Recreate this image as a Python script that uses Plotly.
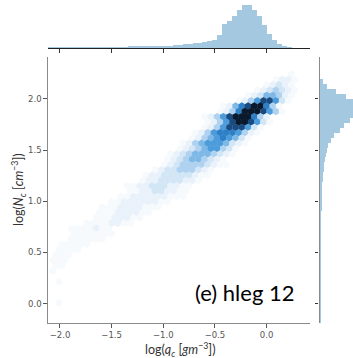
import plotly.graph_objects as go

# ---------------- data ----------------
QC_TICKS = [-2.0, -1.5, -1.0, -0.5, 0.0]
QC_TICK_TEXT = ["\u22122.0", "\u22121.5", "\u22121.0", "\u22120.5", "0.0"]
NC_TICKS = [0.0, 0.5, 1.0, 1.5, 2.0]
NC_TICK_TEXT = ["0.0", "0.5", "1.0", "1.5", "2.0"]

# top marginal histogram of log(q_c): 50 bins
QC_BIN_LO = -2.157
QC_BIN_W = 0.048
QC_COUNTS = [0.2, 0.3, 0.3, 0.4, 0.4, 0.5, 0.5, 0.5, 0.6, 0.6,
             0.6, 0.7, 0.7, 0.8, 0.9, 1.0, 1.0, 1.1, 1.2, 1.3,
             1.5, 1.6, 1.8, 2.0, 2.2, 2.5, 2.9, 3.3, 3.7, 4.2,
             4.8, 5.3, 6.0, 7.0, 8.3, 13.3, 23.7, 27.0, 31.7, 37.7,
             42.7, 42.7, 38.3, 31.7, 22.7, 14.3, 7.7, 3.7, 1.7, 0.5]

# right marginal histogram of log(N_c): 50 bins (bottom to top)
NC_BIN_LO = -0.204
NC_BIN_W = 0.048
NC_COUNTS = [0.1, 0.1, 0.1, 0.1, 0.2, 0.2, 0.2, 0.2, 0.2, 0.3,
             0.3, 0.3, 0.4, 0.4, 0.4, 0.5, 0.5, 0.6, 0.6, 0.7,
             0.8, 0.9, 1.0, 1.1, 1.3, 1.5, 1.8, 2.0, 2.4, 2.8,
             3.3, 3.8, 4.2, 4.7, 5.5, 6.5, 8.0, 10.5, 14.0, 20.0,
             24.0, 30.0, 36.0, 42.0, 40.0, 36.0, 25.7, 15.7, 6.7, 3.3]

# hexbin density levels (0-9): (row, first column, levels along the row)
HEX_X0, HEX_DX = -2.1, 0.06
HEX_Y0, HEX_DY = -0.15, 0.052
HEX_ROWS = [
    (46, 39, "1"),
    (45, 36, "1221"),
    (44, 35, "12321"),
    (43, 33, "1234321"),
    (42, 32, "12355421"),
    (41, 30, "124688631"),
    (40, 28, "1257899741"),
    (39, 27, "12479998641"),
    (38, 25, "12468999742"),
    (37, 25, "12468998631"),
    (36, 25, "1246888631"),
    (35, 23, "12467776421"),
    (34, 23, "1245676531"),
    (33, 21, "12456665321"),
    (32, 21, "1234566431"),
    (31, 19, "12345554321"),
    (30, 19, "1234554321"),
    (29, 18, "12344443211"),
    (28, 17, "1233444321"),
    (27, 15, "12233333211"),
    (26, 15, "1223333221"),
    (25, 12, "11223332211"),
    (24, 13, "1122332211"),
    (23, 11, "11222222111"),
    (22, 10, "1122222211"),
    (21, 8, "1112222111"),
    (20, 8, "111222211"),
    (19, 7, "11122211"),
    (18, 6, "11112211"),
    (17, 3, "1111211"),
    (16, 4, "1111111"),
    (15, 3, "111111"),
    (14, 2, "11111"),
    (13, 1, "1111"),
    (12, 1, "111"),
    (11, 0, "111"),
    (10, 1, "11"),
    (9, 0, "1"),
    (7, 1, "1"),
    (3, 1, "1"),
]

# ---------------- build traces ----------------
hx, hy, hv = [], [], []
for row, c0, levels in HEX_ROWS:
    off = 0.5 * HEX_DX if row % 2 else 0.0
    for k, ch in enumerate(levels):
        v = int(ch)
        if v == 0:
            continue
        hx.append(HEX_X0 + (c0 + k) * HEX_DX + off)
        hy.append(HEX_Y0 + row * HEX_DY)
        hv.append(v)

qc_centers = [QC_BIN_LO + (i + 0.5) * QC_BIN_W for i in range(len(QC_COUNTS))]
nc_centers = [NC_BIN_LO + (i + 0.5) * NC_BIN_W for i in range(len(NC_COUNTS))]

HEX_SCALE = [
    [0.0, "#f6fafd"], [0.125, "#e9f2fa"], [0.25, "#d3e6f6"],
    [0.375, "#aed2ef"], [0.5, "#7db8e7"], [0.625, "#4c9cdc"],
    [0.75, "#2f7fc6"], [0.875, "#1a4b80"], [1.0, "#0a1a2c"],
]
HIST_COLOR = "#a5c8e1"

W, H = 353, 358
X_RANGE = [-2.116, 0.42]
Y_RANGE = [-0.19, 2.41]
main_xdom = [48 / W, 310 / W]
main_ydom = [(H - 323) / H, (H - 57) / H]

fig = go.Figure()
fig.add_trace(go.Scatter(
    x=hx, y=hy, mode="markers", xaxis="x", yaxis="y", hoverinfo="skip",
    marker=dict(symbol="hexagon", size=7.5, color=hv, colorscale=HEX_SCALE,
                cmin=1, cmax=9, line=dict(width=0)),
))
fig.add_trace(go.Bar(
    x=qc_centers, y=QC_COUNTS, width=QC_BIN_W, xaxis="x2", yaxis="y2",
    marker=dict(color=HIST_COLOR, line=dict(width=0)), hoverinfo="skip",
))
fig.add_trace(go.Bar(
    y=nc_centers, x=NC_COUNTS, width=NC_BIN_W, orientation="h",
    xaxis="x3", yaxis="y3",
    marker=dict(color=HIST_COLOR, line=dict(width=0)), hoverinfo="skip",
))

tickfont = dict(family="DejaVu Sans", size=8.5, color="#555555")
spine = "#8a8a8a"

fig.update_layout(
    width=W, height=H, margin=dict(l=0, r=0, t=0, b=0),
    paper_bgcolor="white", plot_bgcolor="white",
    showlegend=False, bargap=0,
    xaxis=dict(domain=main_xdom, range=X_RANGE, anchor="y",
               tickvals=QC_TICKS, ticktext=QC_TICK_TEXT,
               showline=True, linecolor=spine, linewidth=1.3,
               ticks="outside", ticklen=3.5, tickcolor="#555555", tickwidth=1,
               showgrid=False, zeroline=False, tickfont=tickfont),
    yaxis=dict(domain=main_ydom, range=Y_RANGE, anchor="x",
               tickvals=NC_TICKS, ticktext=NC_TICK_TEXT,
               showline=True, linecolor=spine, linewidth=1.3,
               ticks="outside", ticklen=3.5, tickcolor="#555555", tickwidth=1,
               showgrid=False, zeroline=False, tickfont=tickfont),
    xaxis2=dict(domain=main_xdom, range=X_RANGE, anchor="y2",
                tickvals=QC_TICKS, showticklabels=False,
                showline=True, linecolor="#222222", linewidth=1.3,
                ticks="outside", ticklen=3.5, tickcolor="#333333",
                showgrid=False, zeroline=False),
    yaxis2=dict(domain=[(H - 48) / H, 1.0], range=[0, 48], anchor="x2",
                visible=False),
    xaxis3=dict(domain=[319.5 / W, 1.0], range=[0, 33.5], anchor="y3",
                visible=False),
    yaxis3=dict(domain=main_ydom, range=Y_RANGE, anchor="x3",
                tickvals=NC_TICKS, showticklabels=False,
                showline=True, linecolor=spine, linewidth=1.3,
                ticks="outside", ticklen=3.5, tickcolor="#333333",
                showgrid=False, zeroline=False),
    annotations=[
        dict(text="(e) hleg 12", xref="paper", yref="paper",
             x=245 / W, y=(H - 292) / H, xanchor="center", yanchor="middle",
             showarrow=False, font=dict(family="Lato", size=22, color="black")),
        dict(text="log(<i>q<sub>c</sub></i> [<i>gm</i><sup>\u22123</sup>])",
             xref="paper", yref="paper", x=180 / W, y=(H - 349) / H,
             xanchor="center", yanchor="middle", showarrow=False,
             font=dict(family="Lato", size=12.5, color="#333333")),
        dict(text="log(<i>N<sub>c</sub></i> [<i>cm</i><sup>\u22123</sup>])",
             xref="paper", yref="paper", x=18 / W, y=(H - 190) / H,
             xanchor="center", yanchor="middle", showarrow=False, textangle=-90,
             font=dict(family="Lato", size=12.5, color="#333333")),
    ],
)

fig.write_html("out.html")
